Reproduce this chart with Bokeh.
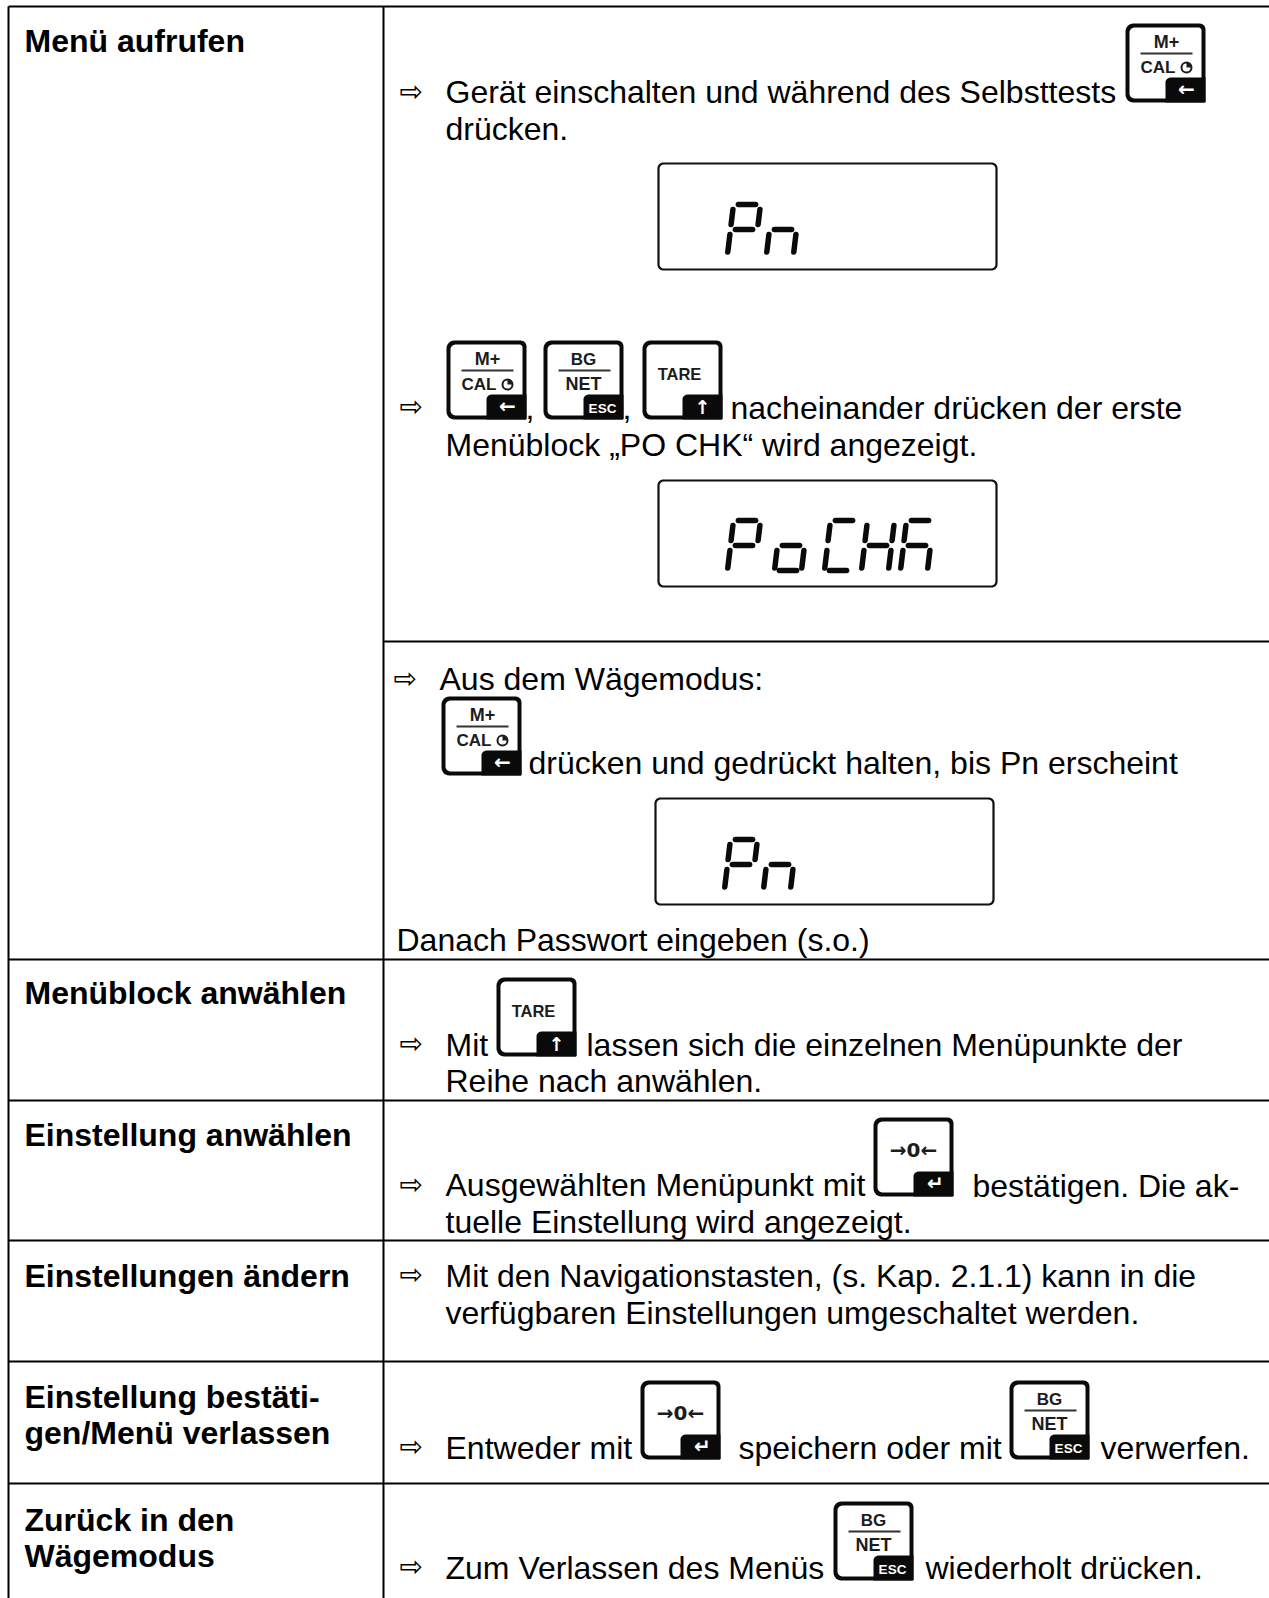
from bokeh.plotting import figure
from bokeh.embed import file_html
from bokeh.resources import INLINE
from bokeh.core.properties import value
from bokeh.models import Range1d
import math

W, H = 1269, 1598
FS = 32
BASE = 0.36  # the alphabetic baseline sits this many ems lower on the svg backend

row_lines = [(383, 641), (8, 959), (8, 1100), (8, 1240), (8, 1361), (8, 1483)]
bold_labels = ["Menü aufrufen", "Menüblock anwählen", "Einstellung anwählen", "Einstellungen ändern",
               "Einstellung bestäti-", "gen/Menü verlassen", "Zurück in den", "Wägemodus"]
bold_y = [52, 1004, 1146, 1287, 1408, 1444, 1531, 1567]

body_text = ["Gerät einschalten und während des Selbsttests", "drücken.", "nacheinander drücken der erste",
             "Menüblock „PO CHK“ wird angezeigt.", "Aus dem Wägemodus:", "drücken und gedrückt halten, bis Pn erscheint",
             "Danach Passwort eingeben (s.o.)", "Mit", "lassen sich die einzelnen Menüpunkte der", "Reihe nach anwählen.",
             "Ausgewählten Menüpunkt mit", "bestätigen. Die ak-", "tuelle Einstellung wird angezeigt.",
             "Mit den Navigationstasten, (s. Kap. 2.1.1) kann in die", "verfügbaren Einstellungen umgeschaltet werden.",
             "Entweder mit", "speichern oder mit", "verwerfen.", "Zum Verlassen des Menüs", "wiederholt drücken."]
body_x = [445, 445, 730, 445, 439, 528, 396, 445, 586, 445, 445, 972, 445, 445, 445, 445, 738, 1100, 445, 925]
body_y = [103, 140, 419, 456, 690, 774, 951, 1056, 1056, 1092, 1196, 1197, 1233, 1287, 1324, 1459, 1459, 1459, 1579, 1579]

arrow_x = [399, 399, 393, 399, 399, 399, 399, 399]
arrow_y = [101, 416, 688, 1053, 1194, 1284, 1456, 1576]

key_kind = ["M", "M", "B", "T", "M", "T", "Z", "Z", "B", "B"]
key_x = [1125, 446, 543, 642, 441, 496, 873, 640, 1009, 833]
key_y = [23, 340, 340, 340, 696, 977, 1117, 1380, 1380, 1501]

disp_x = [658, 658, 655]
disp_y = [163, 480, 798]
DISP_W, DISP_H = 338, 106

SEG = {"P": "abefg", "n": "ceg", "o": "cdeg", "C": "adef", "H": "bcefg", "K": "acefg"}
digits = ["P", "n", "P", "o", "C", "H", "K", "P", "n"]
digit_x = [727, 766, 727, 774, 824, 861, 900, 724, 763]
digit_y = [204, 204, 520, 520, 520, 520, 520, 839, 839]

p = figure(width=W, height=H, output_backend="svg", toolbar_location=None,
           x_range=Range1d(0, W), y_range=Range1d(H, 0),
           min_border=0, outline_line_color=None)
p.axis.visible = False
p.grid.visible = False
p.background_fill_color = "white"

# Table rules
p.segment(x0=[8], y0=[6], x1=[1269], y1=[6], line_color="black", line_width=2)
p.segment(x0=[8, 383], y0=[6, 6], x1=[8, 383], y1=[1598, 1598], line_color="black", line_width=2)
p.segment(x0=[r[0] for r in row_lines], y0=[r[1] for r in row_lines],
          x1=[1269] * len(row_lines), y1=[r[1] for r in row_lines], line_color="black", line_width=2)

FONT = value("Liberation Sans")
SYM = value("DejaVu Sans")


def txt(xs, ys, texts, size, color="black", font=FONT, style="normal", align="left"):
    p.text(x=xs, y=[y - BASE * size for y in ys], text=texts, text_font=font, text_font_style=style,
           text_font_size=f"{size}px", text_color=color, text_align=align, text_baseline="alphabetic")


txt([24] * len(bold_labels), bold_y, bold_labels, FS, style="bold")
txt(body_x, body_y, body_text, FS)
txt(arrow_x, arrow_y, ["⇨"] * len(arrow_x), 28, font=SYM)
txt([525, 622], [419, 419], [",", ","], FS)


def rrect(x0, y0, x1, y1, rs):
    """rounded polygon; rs = radius of tl, tr, br, bl"""
    xs, ys = [], []
    corners = [(x0 + rs[0], y0 + rs[0], rs[0], 180), (x1 - rs[1], y0 + rs[1], rs[1], 270),
               (x1 - rs[2], y1 - rs[2], rs[2], 0), (x0 + rs[3], y1 - rs[3], rs[3], 90)]
    for cx, cy, r, a in corners:
        for i in range(7):
            t = math.radians(a + i * 15)
            xs.append(cx + r * math.cos(t))
            ys.append(cy + r * math.sin(t))
    return xs, ys


KW, KH = 80, 79
INK = "#1c1c1c"
for kind, kx, ky in zip(key_kind, key_x, key_y):
    xs, ys = rrect(kx, ky, kx + KW, ky + KH, (8, 6, 1, 8))
    p.patch(xs, ys, fill_color="#0a0a0a", line_color=None)
    xs, ys = rrect(kx + 4, ky + 4, kx + KW - 4, ky + KH - 4, (5, 3, 0, 5))
    p.patch(xs, ys, fill_color="white", line_color=None)
    xs, ys = rrect(kx + 40, ky + 54, kx + KW, ky + KH, (5, 0, 1, 0))
    p.patch(xs, ys, fill_color="#0a0a0a", line_color=None)
    if kind in "MB":
        p.segment(x0=[kx + 15], y0=[ky + 30], x1=[kx + 67], y1=[ky + 30], line_color="#333333", line_width=1.8)
    if kind == "M":
        txt([kx + 41], [ky + 25], ["M+"], 18, INK, style="bold", align="center")
        txt([kx + 15], [ky + 50], ["CAL"], 17, INK, style="bold")
        p.circle(x=[kx + 61], y=[ky + 44], radius=5, fill_color="white", line_color=INK, line_width=2)
        p.wedge(x=[kx + 61], y=[ky + 44], radius=5, start_angle=0, end_angle=math.pi / 2, fill_color=INK,
                line_color=None)
        txt([kx + 61], [ky + 73], ["←"], 20, "white", font=SYM, style="bold", align="center")
    elif kind == "B":
        txt([kx + 40], [ky + 25], ["BG"], 17, INK, style="bold", align="center")
        txt([kx + 40], [ky + 50], ["NET"], 18, INK, style="bold", align="center")
        txt([kx + 59], [ky + 73], ["ESC"], 13.5, "white", style="bold", align="center")
    elif kind == "T":
        txt([kx + 37], [ky + 39], ["TARE"], 16.5, INK, style="bold", align="center")
        txt([kx + 60], [ky + 73], ["↑"], 19, "white", font=SYM, style="bold", align="center")
    else:
        txt([kx + 40], [ky + 40], ["→0←"], 20, INK, font=SYM, style="bold", align="center")
        txt([kx + 62], [ky + 73], ["↵"], 20, "white", font=SYM, style="bold", align="center")

# LCD displays
for dx, dy in zip(disp_x, disp_y):
    xs, ys = rrect(dx, dy, dx + DISP_W, dy + DISP_H, (5, 5, 5, 5))
    p.patch(xs, ys, fill_color="white", line_color="#111111", line_width=2.2)

# Seven-segment characters
dw, dh, sl = 27, 50, 6


def pt(u, v, x0, y0):
    return x0 + u * dw + sl * (1 - v), y0 + v * dh


SEGS = {"a": ((0.18, 0), (0.82, 0)), "g": ((0.18, .5), (0.82, .5)), "d": ((0.18, 1), (0.82, 1)),
        "f": ((0, .1), (0, .4)), "e": ((0, .6), (0, .95)), "b": ((1, .1), (1, .4)), "c": ((1, .6), (1, .95))}
x0s, y0s, x1s, y1s = [], [], [], []
for ch, x0, y0 in zip(digits, digit_x, digit_y):
    for s in SEG[ch]:
        a, b = SEGS[s]
        A, B = pt(*a, x0, y0), pt(*b, x0, y0)
        x0s.append(A[0]); y0s.append(A[1]); x1s.append(B[0]); y1s.append(B[1])
p.segment(x0=x0s, y0=y0s, x1=x1s, y1=y1s, line_color="#0a0a0a", line_width=5.5, line_cap="round")

open("out.html", "w").write(file_html(p, INLINE))
